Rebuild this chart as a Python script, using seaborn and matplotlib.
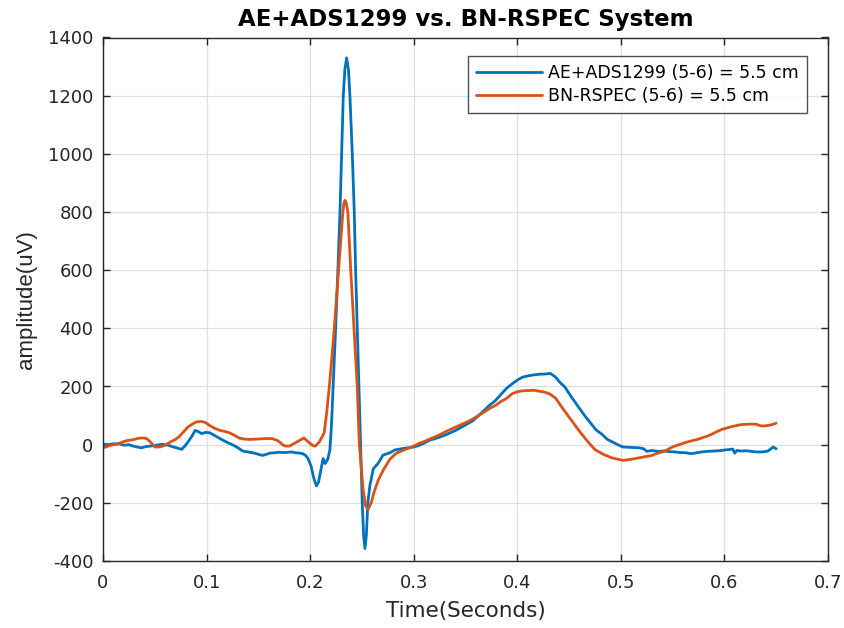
import matplotlib
matplotlib.use("Agg")
import matplotlib.pyplot as plt
import seaborn as sns
import pandas as pd

# ---- data ----
t_blue = [0.000, 0.005, 0.010, 0.016, 0.020, 0.025, 0.029, 0.033, 0.037, 0.041,
          0.045, 0.050, 0.054, 0.058, 0.063, 0.068, 0.072, 0.076, 0.079, 0.082,
          0.086, 0.089, 0.092, 0.095, 0.099, 0.103, 0.107, 0.111, 0.116, 0.121,
          0.126, 0.130, 0.135, 0.140, 0.145, 0.150, 0.154, 0.158, 0.161, 0.165,
          0.170, 0.174, 0.177, 0.182, 0.186, 0.190, 0.193, 0.196, 0.198, 0.201,
          0.2035, 0.206, 0.208, 0.2105, 0.2125, 0.2145, 0.217, 0.219, 0.2205, 0.2222,
          0.2246, 0.2268, 0.2288, 0.2304, 0.232, 0.2335, 0.2352, 0.237, 0.2384, 0.2407,
          0.2426, 0.2439, 0.2455, 0.2471, 0.2487, 0.2503, 0.2516, 0.2529, 0.2543, 0.2557,
          0.2577, 0.261, 0.2655, 0.2703, 0.2768, 0.282, 0.287, 0.292, 0.296, 0.300,
          0.305, 0.310, 0.315, 0.320, 0.325, 0.331, 0.336, 0.341, 0.347, 0.352,
          0.357, 0.363, 0.368, 0.373, 0.379, 0.384, 0.390, 0.395, 0.400, 0.405,
          0.411, 0.416, 0.421, 0.427, 0.432, 0.437, 0.441, 0.446, 0.452, 0.459,
          0.465, 0.470, 0.476, 0.482, 0.487, 0.492, 0.497, 0.502, 0.507, 0.512,
          0.518, 0.522, 0.525, 0.530, 0.536, 0.541, 0.547, 0.552, 0.557, 0.563,
          0.568, 0.573, 0.578, 0.584, 0.589, 0.594, 0.599, 0.604, 0.608, 0.610,
          0.612, 0.616, 0.621, 0.626, 0.631, 0.637, 0.642, 0.645, 0.647, 0.650]
v_blue = [2, 0, 3, 3, -2, 0, -5, -8, -11, -7,
          -5, -3, 0, 1, -2, -8, -12, -16, -5, 9,
          30, 49, 45, 38, 42, 41, 33, 25, 15, 6,
          -2, -10, -22, -25, -28, -33, -37, -33, -29, -28,
          -26, -27, -27, -25, -28, -29, -31, -38, -48, -75,
          -115, -142, -130, -85, -48, -65, -50, -20, 60, 200,
          400, 600, 800, 1000, 1200, 1290, 1330, 1290, 1200, 1000,
          800, 600, 400, 200, 0, -200, -310, -357, -310, -200,
          -140, -83, -65, -36, -28, -18, -15, -12, -10, -8,
          -3, 5, 15, 20, 26, 34, 42, 50, 62, 72,
          82, 101, 118, 135, 152, 172, 195, 209, 222, 232,
          237, 240, 242, 243, 245, 232, 215, 198, 165, 130,
          100, 78, 51, 35, 18, 9, 0, -8, -9, -10,
          -11, -14, -23, -20, -23, -22, -24, -25, -27, -28,
          -31, -28, -25, -23, -22, -21, -19, -17, -15, -29,
          -20, -22, -21, -23, -25, -25, -22, -14, -8, -14]

t_orange = [0.000, 0.005, 0.010, 0.013, 0.018, 0.023, 0.029, 0.034, 0.039, 0.042,
            0.044, 0.047, 0.050, 0.055, 0.060, 0.065, 0.070, 0.074, 0.078, 0.082,
            0.086, 0.090, 0.095, 0.099, 0.103, 0.108, 0.113, 0.118, 0.122, 0.127,
            0.132, 0.137, 0.142, 0.147, 0.152, 0.158, 0.163, 0.168, 0.171, 0.174,
            0.177, 0.180, 0.185, 0.190, 0.194, 0.198, 0.2025, 0.205, 0.209, 0.2135,
            0.216, 0.2185, 0.221, 0.2233, 0.2275, 0.2316, 0.2326, 0.2336, 0.2348, 0.2364,
            0.2392, 0.2423,
            0.2455, 0.2475, 0.251, 0.2535, 0.256, 0.259, 0.262, 0.266, 0.271, 0.277,
            0.283, 0.288, 0.293, 0.300, 0.306, 0.311, 0.315, 0.320, 0.325, 0.331,
            0.336, 0.341, 0.347, 0.352, 0.357, 0.363, 0.368, 0.373, 0.379, 0.384,
            0.390, 0.395, 0.400, 0.405, 0.411, 0.416, 0.421, 0.426, 0.431, 0.437,
            0.444, 0.451, 0.459, 0.467, 0.475, 0.483, 0.491, 0.497, 0.502, 0.507,
            0.512, 0.518, 0.524, 0.530, 0.534, 0.540, 0.545, 0.550, 0.556, 0.562,
            0.568, 0.573, 0.578, 0.584, 0.589, 0.594, 0.598, 0.603, 0.607, 0.611,
            0.616, 0.621, 0.627, 0.631, 0.634, 0.637, 0.640, 0.645, 0.650]
v_orange = [-11, -5, 0, 1, 8, 14, 17, 22, 23, 21,
            15, 5, -8, -8, -2, 9, 18, 29, 45, 61,
            70, 78, 80, 76, 66, 56, 49, 45, 41, 32,
            22, 19, 18, 19, 20, 21, 21, 15, 8, -2,
            -5, -5, 5, 15, 23, 10, -3, -5, 10, 40,
            110, 200, 300, 400, 600, 800, 830, 840, 832, 800,
            600, 400,
            200, 0, -150, -210, -222, -200, -160, -120, -85, -50,
            -30, -22, -15, -5, 6, 12, 19, 26, 34, 45,
            53, 61, 71, 79, 88, 101, 112, 124, 135, 148,
            160, 175, 182, 185, 186, 187, 184, 181, 175, 160,
            124, 90, 51, 15, -17, -33, -45, -50, -54, -52,
            -49, -45, -41, -37, -31, -25, -17, -8, 0, 7,
            13, 17, 23, 30, 38, 47, 53, 58, 62, 65,
            69, 70, 71, 70, 66, 64, 65, 68, 74]

x_ticks = [0, 0.1, 0.2, 0.3, 0.4, 0.5, 0.6, 0.7]
x_ticklabels = ["0", "0.1", "0.2", "0.3", "0.4", "0.5", "0.6", "0.7"]
y_ticks = [-400, -200, 0, 200, 400, 600, 800, 1000, 1200, 1400]

label_blue = "AE+ADS1299 (5-6) = 5.5 cm"
label_orange = "BN-RSPEC (5-6) = 5.5 cm"

df_blue = pd.DataFrame({"t": t_blue, "v": v_blue})
df_orange = pd.DataFrame({"t": t_orange, "v": v_orange})

# ---- style ----
sns.set_theme(style="white")
plt.rcParams["font.family"] = ["DejaVu Sans"]
plt.rcParams["axes.unicode_minus"] = False

fig = plt.figure(figsize=(8.45, 6.28), dpi=100)
ax = fig.add_axes([103 / 845, 1 - 561 / 628, (828 - 103) / 845, (561 - 37.5) / 628])

sns.lineplot(data=df_blue, x="t", y="v", ax=ax, color="#0072BD", linewidth=2.0,
             label=label_blue, sort=False, estimator=None)
sns.lineplot(data=df_orange, x="t", y="v", ax=ax, color="#D95319", linewidth=2.0,
             label=label_orange, sort=False, estimator=None)

ax.set_xlim(0, 0.7)
ax.set_ylim(-400, 1400)
ax.set_xticks(x_ticks)
ax.set_xticklabels(x_ticklabels)
ax.set_yticks(y_ticks)

ax.grid(True, color="#dfdfdf", linewidth=0.9)
ax.set_axisbelow(True)
for sp in ax.spines.values():
    sp.set_color("#262626")
    sp.set_linewidth(1.0)
    sp.set_visible(True)

ax.tick_params(axis="both", which="both", direction="in", length=5, width=1,
               colors="#262626", labelsize=13, top=True, right=True,
               bottom=True, left=True, labelcolor="#262626")
ax.tick_params(axis="x", pad=9)
ax.tick_params(axis="y", pad=7)

ax.set_xlabel("Time(Seconds)", fontsize=15.5, color="#262626", labelpad=7)
ax.set_ylabel("amplitude(uV)", fontsize=16, color="#262626", labelpad=8,
              family=["Liberation Sans", "DejaVu Sans"])
ax.set_title("AE+ADS1299 vs. BN-RSPEC System", fontsize=16.5, fontweight="bold",
             color="black", pad=8)

leg = ax.legend(loc="upper right", bbox_to_anchor=((807 - 103) / 725, (561 - 56) / 523.5),
                fontsize=12.5, frameon=True, fancybox=False, edgecolor="#262626",
                handlelength=3.85, borderpad=0.45, labelspacing=0.3,
                handletextpad=0.35, borderaxespad=0)
leg.get_frame().set_linewidth(1.0)
for txt in leg.get_texts():
    txt.set_color("black")

fig.savefig("out.png", dpi=100)
